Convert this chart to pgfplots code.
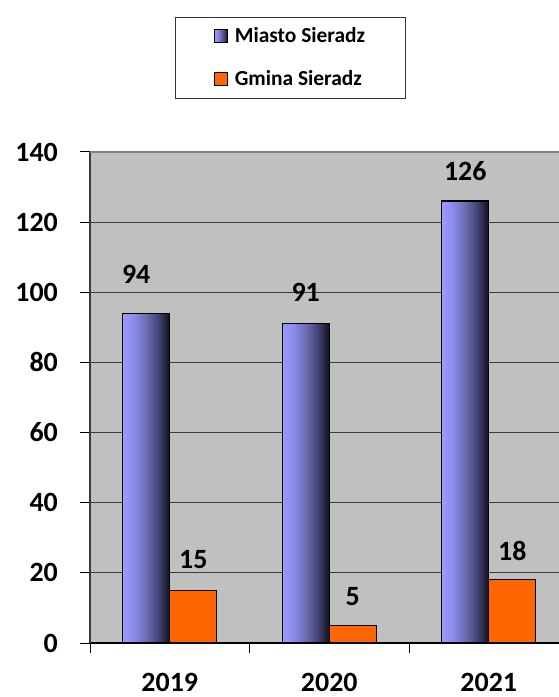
\documentclass[border=0pt]{standalone}
\usepackage{fontspec}
\setmainfont{Carlito}
\usepackage{pgfplots}
\usepackage{pgfplotstable}
\pgfplotsset{compat=1.18}
\definecolor{bggray}{HTML}{C0C0C0}
\definecolor{barorange}{HTML}{FF6600}
\definecolor{gridc}{HTML}{3A3A3A}
\definecolor{topc}{HTML}{808080}
\definecolor{bA}{HTML}{9A9AFF}
\definecolor{bB}{HTML}{8C8CEE}
\definecolor{bC}{HTML}{6C6CB0}
\definecolor{bD}{HTML}{45457A}
\definecolor{bE}{HTML}{10101C}
\pgfdeclarehorizontalshading{bluegrad}{100bp}{color(0bp)=(bA); color(25bp)=(bA); color(36bp)=(bB); color(50bp)=(bC); color(62bp)=(bD); color(75bp)=(bE); color(100bp)=(bE)}

\pgfplotsset{
  sqlegend/.style={legend image code/.code={\draw[##1, line width=0.9pt] (0bp,-6.5bp) rectangle (13bp,6.5bp);}},
  bluebar/.style={ybar, bar width=0.295, bar shift=-0.1475, draw=black, line width=1.2pt,
    shading=bluegrad, sqlegend},
  orangebar/.style={ybar, bar width=0.295, bar shift=0.1475, draw=black, line width=1.2pt,
    fill=barorange, sqlegend}
}

\pgfplotstableread{
x y dx dy
0 94 -10 39
}\miastoA
\pgfplotstableread{
x y dx dy
1 91 0 31
}\miastoB
\pgfplotstableread{
x y dx dy
2 126 0 30
}\miastoC
\pgfplotstableread{
x y dx dy
0 15 0 31
1 5 0 29
2 18 0 29
}\gmina

\begin{document}
\begin{tikzpicture}
\begin{axis}[
  scale only axis, width=469bp, height=491bp,
  xmin=-0.5, xmax=2.4404, ymin=0, ymax=140,
  axis lines*=left,
  axis background/.style={fill=bggray},
  x axis line style={black, line width=1.2pt},
  y axis line style={gridc, line width=1.5pt},
  tick align=outside,
  major tick length=10bp,
  tick style={black, line width=1pt},
  ytick={0,20,...,140},
  ymajorgrids=true,
  grid style={gridc, line width=1pt},
  xtick={-0.5,0.5,1.5},
  xticklabels={},
  extra x ticks={0,1,2},
  extra x tick labels={2019,2020,2021},
  extra x tick style={major tick length=0pt, xmajorgrids=false},
  /pgf/number format/assume math mode=true,
  ticklabel style={font=\fontsize{28}{30}\selectfont\bfseries},
  xticklabel style={inner sep=0pt, anchor=north, yshift=-30bp},
  yticklabel style={inner sep=0pt, anchor=east, xshift=-22bp},
  ybar,
  legend style={at={(axis description cs:0.4275,1.1925)}, anchor=center,
    draw=black!80, line width=0.8pt, font=\fontsize{21.5}{23}\selectfont\bfseries,
    row sep=22bp, inner xsep=38bp, inner ysep=9bp,
    /tikz/every odd column/.append style={column sep=5bp}},
  legend cell align=left,
  nodes near coords={\pgfmathprintnumber{\pgfplotspointmeta}},
  point meta=y,
  visualization depends on={\thisrow{dy}\as\dy},
  visualization depends on={\thisrow{dx}\as\dx},
  nodes near coords style={anchor=center, font=\fontsize{28}{30}\selectfont\bfseries, black, yshift=\dy*1bp, xshift=\dx*1bp},
]
\addplot[bluebar] table[x=x,y=y] {\miastoA};
\addlegendentry{Miasto Sieradz}
\addplot[orangebar] table[x=x,y=y] {\gmina};
\addlegendentry{Gmina Sieradz}
\addplot[bluebar, forget plot] table[x=x,y=y] {\miastoB};
\addplot[bluebar, forget plot] table[x=x,y=y] {\miastoC};
\draw[topc, line width=1.5pt] (rel axis cs:0,1) -- (rel axis cs:1,1);
\end{axis}
\pgfresetboundingbox
\path[use as bounding box] (-90bp,-54bp) rectangle (469bp,643bp);
\end{tikzpicture}
\end{document}
